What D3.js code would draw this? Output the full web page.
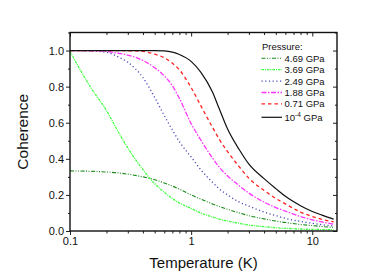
<!DOCTYPE html>
<html>
<head>
<meta charset="utf-8">
<script src="https://cdn.jsdelivr.net/npm/d3@7"></script>
<style>
  body { margin: 0; background: #fff; }
  text { font-family: "Liberation Sans", Arial, sans-serif; fill: #111; }
</style>
</head>
<body>
<script>
// temperature grid (K)
var temps = [0.1, 0.15, 0.2, 0.25, 0.3, 0.4, 0.5, 0.6, 0.7, 0.8, 1.0, 1.2, 1.5, 1.7, 2, 2.5, 3, 4, 5, 6, 8, 10, 12, 15];

// coherence per pressure
var p469 = [0.333, 0.331, 0.327, 0.322, 0.315, 0.300, 0.284, 0.266, 0.249, 0.232, 0.200, 0.177, 0.150, 0.136, 0.120, 0.100, 0.085, 0.067, 0.055, 0.047, 0.036, 0.030, 0.025, 0.020];
var p369 = [0.995, 0.790, 0.668, 0.550, 0.460, 0.340, 0.262, 0.215, 0.180, 0.155, 0.125, 0.100, 0.078, 0.066, 0.055, 0.042, 0.033, 0.024, 0.018, 0.015, 0.011, 0.009, 0.008, 0.007];
var p249 = [1.0, 0.998, 0.99, 0.965, 0.935, 0.850, 0.740, 0.640, 0.560, 0.495, 0.410, 0.340, 0.270, 0.235, 0.200, 0.160, 0.138, 0.105, 0.085, 0.070, 0.053, 0.043, 0.035, 0.028];
var p188 = [1.0, 0.999, 0.995, 0.985, 0.975, 0.945, 0.905, 0.860, 0.805, 0.735, 0.595, 0.505, 0.405, 0.355, 0.305, 0.250, 0.210, 0.160, 0.130, 0.110, 0.080, 0.062, 0.050, 0.038];
var p071 = [1.0, 1.0, 1.0, 1.0, 0.999, 0.995, 0.980, 0.960, 0.930, 0.893, 0.795, 0.695, 0.575, 0.510, 0.440, 0.355, 0.292, 0.225, 0.180, 0.150, 0.105, 0.080, 0.065, 0.050];
var p0001 = [1.0, 1.0, 1.0, 1.0, 1.0, 1.0, 1.0, 0.998, 0.991, 0.978, 0.940, 0.880, 0.770, 0.680, 0.565, 0.450, 0.370, 0.290, 0.235, 0.192, 0.140, 0.108, 0.088, 0.066];

var legendLabels = ["4.69 GPa", "3.69 GPa", "2.49 GPa", "1.88 GPa", "0.71 GPa", "10"];
var yTicks = [0.0, 0.2, 0.4, 0.6, 0.8, 1.0];
var xTicks = [0.1, 1, 10];

var series = [
  {vals: p469, color: "#1a8a1a", dash: "4,1.5,1,1.5,1,1.5", width: 1.1},
  {vals: p369, color: "#3cff3c", dash: "2.5,1,1,1", width: 1.3},
  {vals: p249, color: "#4848b8", dash: "1.2,2.5", width: 1.3},
  {vals: p188, color: "#ff33ff", dash: "5,1.5,1.5,1.5", width: 1.3},
  {vals: p071, color: "#ff2222", dash: "3.5,3", width: 1.3},
  {vals: p0001, color: "#111111", dash: null, width: 1.2}
];

var width = 392, height = 278;
var plotL = 70, plotR = 337, plotT = 32.5, plotB = 231;

var svg = d3.select("body").append("svg")
  .attr("width", width)
  .attr("height", height);

var x = d3.scaleLog().domain([0.1, 16]).range([plotL, plotR]);
var y = d3.scaleLinear().domain([0, 1.1]).range([plotB, plotT]);

// minor ticks
var xMinor = [];
[0.1, 1, 10].forEach(function(d){
  for (var k = 2; k <= 9; k++) { if (d * k <= 16) xMinor.push(d * k); }
});
var yMinor = d3.range(0.1, 1.11, 0.2);

// curves
var line = d3.line()
  .x(function(d){ return x(d[0]); })
  .y(function(d){ return y(d[1]); })
  .curve(d3.curveMonotoneX);

series.forEach(function(s){
  svg.append("path")
    .datum(temps.map(function(t, i){ return [t, s.vals[i]]; }))
    .attr("fill", "none")
    .attr("stroke", s.color)
    .attr("stroke-width", s.width)
    .attr("stroke-dasharray", s.dash)
    .attr("d", line);
});

// axes
var axLeft = svg.append("g").attr("transform", "translate(" + plotL + ",0)")
  .call(d3.axisLeft(y).tickValues(yTicks).tickFormat(d3.format(".1f")).tickSize(4).tickPadding(2));
axLeft.append("g").call(d3.axisLeft(y).tickValues(yMinor).tickFormat("").tickSize(2));

var axBottom = svg.append("g").attr("transform", "translate(0," + plotB + ")")
  .call(d3.axisBottom(x).tickValues(xTicks).tickFormat(d3.format("")).tickSize(4).tickPadding(2));
axBottom.append("g").call(d3.axisBottom(x).tickValues(xMinor).tickFormat("").tickSize(2.5));

var axTop = svg.append("g").attr("transform", "translate(0," + plotT + ")")
  .call(d3.axisBottom(x).tickValues(xTicks).tickFormat("").tickSize(4));
axTop.append("g").call(d3.axisBottom(x).tickValues(xMinor).tickFormat("").tickSize(2.5));

var axRight = svg.append("g").attr("transform", "translate(" + plotR + ",0)")
  .call(d3.axisLeft(y).tickValues(yTicks).tickFormat("").tickSize(4));
axRight.append("g").call(d3.axisLeft(y).tickValues(yMinor).tickFormat("").tickSize(2));

svg.selectAll(".domain").remove();
svg.selectAll(".tick line").attr("stroke", "#222").attr("stroke-width", 1);
svg.selectAll(".tick text").attr("font-size", 11).attr("fill", "#111")
  .attr("font-family", "Liberation Sans, Arial, sans-serif");

svg.append("rect")
  .attr("x", plotL).attr("y", plotT)
  .attr("width", plotR - plotL).attr("height", plotB - plotT)
  .attr("fill", "none").attr("stroke", "#111").attr("stroke-width", 1.4);

// axis titles
svg.append("text")
  .attr("transform", "translate(28," + ((plotT + plotB) / 2) + ") rotate(-90)")
  .attr("text-anchor", "middle")
  .attr("font-size", 15.5)
  .text("Coherence");

svg.append("text")
  .attr("x", (plotL + plotR) / 2)
  .attr("y", 268)
  .attr("text-anchor", "middle")
  .attr("font-size", 15)
  .text("Temperature (K)");

// legend
var lg = svg.append("g");
lg.append("text").attr("x", 262).attr("y", 50).attr("font-size", 9.5).text("Pressure:");

legendLabels.forEach(function(lab, i){
  var s = series[i];
  var ly = 58.3 + i * 11.4 + (i === 5 ? 2 : 0);
  lg.append("line")
    .attr("x1", 261.5).attr("x2", 282)
    .attr("y1", ly).attr("y2", ly)
    .attr("stroke", s.color)
    .attr("stroke-width", s.width)
    .attr("stroke-dasharray", s.dash);
  var t = lg.append("text").attr("x", 284.5).attr("y", ly + 3.5).attr("font-size", 9.5).text(lab);
  if (i === legendLabels.length - 1) {
    t.append("tspan").attr("dy", -4).attr("font-size", 6.5).text("-4");
    t.append("tspan").attr("dy", 4).text(" GPa");
  }
});
</script>
</body>
</html>
